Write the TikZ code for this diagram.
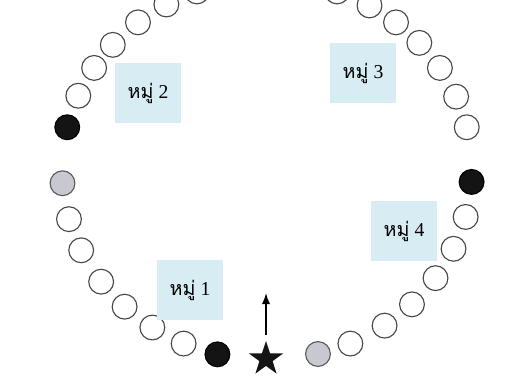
\documentclass[tikz,border=0pt]{standalone}
\usepackage{fontspec}
\setmainfont{Liberation Serif}
\newfontfamily\thaifont[Script=Thai]{Loma}
\usepackage{xcolor}
\usetikzlibrary{arrows.meta,positioning,shapes.geometric}

\definecolor{boxblue}{HTML}{D8ECF3}
\definecolor{seatgrey}{HTML}{C8C8D0}

\begin{document}
\begin{tikzpicture}[>=Latex, x=0.025cm, y=-0.025cm,
  seat/.style={draw=black!72, line width=0.8pt, fill=white},
  seatdark/.style={draw=black, line width=0.8pt, fill=black!92},
  seatgray/.style={draw=black!65, line width=0.8pt, fill=seatgrey},
  groupbox/.style={fill=boxblue, inner sep=0pt, minimum width=1.65cm,
    minimum height=1.475cm, font=\fontsize{14}{16}\selectfont}]
\useasboundingbox (0,0) rectangle (532,385);
\clip (0,0) rectangle (532,385);

% white seats round the ring
\foreach \a in {246,236,226,216,205,195,157,147.5,138.8,129,119.4,110,
                70,60,51,42,32.5,22.7,13,-14.3,-24.5,-34.7,-45,-55,-66}
  \draw[seat] ({267+205*cos(\a)},{170-190*sin(\a)}) circle[radius=0.31cm];

% dark and grey seats
\foreach \a in {256,167,-3.6}
  \draw[seatdark] ({267+205*cos(\a)},{170-190*sin(\a)}) circle[radius=0.31cm];
\foreach \a in {184,-75.6}
  \draw[seatgray] ({267+205*cos(\a)},{170-190*sin(\a)}) circle[radius=0.31cm];

\node[star, star points=5, star point ratio=2.6, fill=black!92, inner sep=0pt,
  minimum size=0.9cm] (start) at (266,359) {};
\coordinate (arrowfoot) at (266,335);
\coordinate (arrowhead) at (266,293);
\draw[->, line width=1.1pt, >={Latex[length=8pt,width=6pt]}] (arrowfoot) -- (arrowhead);

\node[groupbox] (group1) at (190,290) {{\thaifont หมู่} 1\hspace{6pt}};
\node[groupbox] (group2) at (148,93) {{\thaifont หมู่} 2\hspace{6pt}};
\node[groupbox] (group3) at (363,73) {{\thaifont หมู่} 3\hspace{6pt}};
\node[groupbox] (group4) at (404,231) {{\thaifont หมู่} 4\hspace{6pt}};
\end{tikzpicture}
\end{document}
